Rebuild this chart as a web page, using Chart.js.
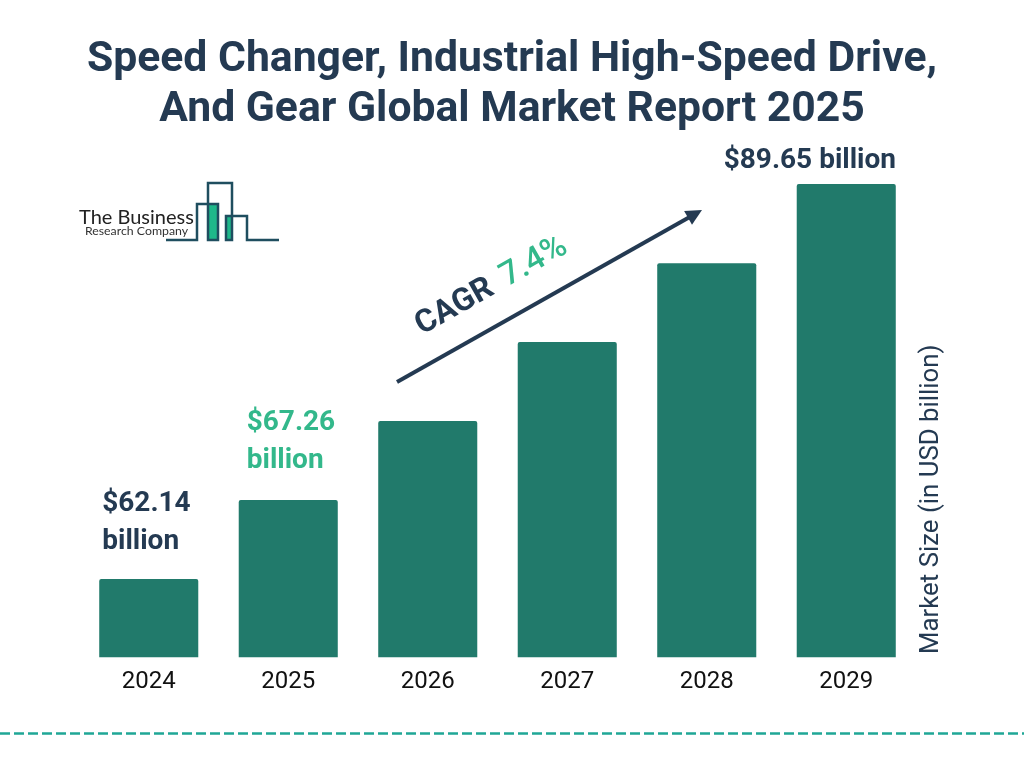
<!DOCTYPE html>
<html>
<head>
<meta charset="utf-8">
<title>Speed Changer Market</title>
<script src="https://cdn.jsdelivr.net/npm/chart.js@4"></script>
<style>
  body { margin: 0; background: #fff; }
  canvas { display: block; }
</style>
</head>
<body>
<canvas id="myChart" width="1024" height="768"></canvas>
<script>
const titleLines = ["Speed Changer, Industrial High-Speed Drive,", "And Gear Global Market Report 2025"];
const years = ["2024", "2025", "2026", "2027", "2028", "2029"];
// bar heights, the bars are evenly stepped so 2025 sits a bit above its label
const marketSize = [62.14, 67.64, 73.14, 78.64, 84.14, 89.65];
const barLabels = [["$62.14", "billion"], ["$67.26", "billion"], [], [], [], ["$89.65 billion"]];
const axisTitle = "Market Size (in USD billion)";
const cagrWord = "CAGR";
const cagrValue = "7.4%";
const logoLines = ["The Business", "Research Company"];

const navy = "#243a52";
const green = "#33b88b";
const barColor = "#217a6b";
const labelColors = [navy, green, navy, navy, navy, navy];
const labelShift = [3, 8, 0, 0, 0, -73];
const labelGap = [37, 39, 0, 0, 0, 23];

const barLabelPlugin = {
  id: "barLabels",
  afterDatasetsDraw(chart) {
    const ctx = chart.ctx;
    const bars = chart.getDatasetMeta(0).data;
    ctx.save();
    ctx.font = "700 28px Roboto";
    ctx.textAlign = "left";
    ctx.textBaseline = "middle";
    bars.forEach((bar, i) => {
      const lines = barLabels[i];
      ctx.fillStyle = labelColors[i];
      lines.forEach((line, n) => {
        const y = bar.y - labelGap[i] - (lines.length - 1 - n) * 38.5;
        ctx.fillText(line, bar.x - bar.width / 2 + labelShift[i], y);
      });
    });
    ctx.restore();
  }
};

const decorPlugin = {
  id: "decor",
  afterDraw(chart) {
    const ctx = chart.ctx;
    ctx.save();

    // dashed footer line
    ctx.strokeStyle = "#1fa796";
    ctx.lineWidth = 2.5;
    ctx.setLineDash([10, 4]);
    ctx.beginPath();
    ctx.moveTo(0, 733.5);
    ctx.lineTo(1024, 733.5);
    ctx.stroke();
    ctx.setLineDash([]);

    // growth arrow
    const x1 = 397, y1 = 382, x2 = 702, y2 = 210;
    const angle = Math.atan2(y2 - y1, x2 - x1);
    ctx.strokeStyle = navy;
    ctx.fillStyle = navy;
    ctx.lineWidth = 4;
    ctx.beginPath();
    ctx.moveTo(x1, y1);
    ctx.lineTo(x2 - 8 * Math.cos(angle), y2 - 8 * Math.sin(angle));
    ctx.stroke();
    ctx.save();
    ctx.translate(x2, y2);
    ctx.rotate(angle);
    ctx.beginPath();
    ctx.moveTo(0, 0);
    ctx.lineTo(-16, -8);
    ctx.lineTo(-16, 8);
    ctx.closePath();
    ctx.fill();
    ctx.restore();

    // CAGR text
    ctx.save();
    ctx.translate(422, 335);
    ctx.rotate(-29.5 * Math.PI / 180);
    ctx.textAlign = "left";
    ctx.textBaseline = "alphabetic";
    ctx.font = "700 32px Roboto";
    ctx.fillStyle = navy;
    ctx.fillText(cagrWord, 0, 0);
    ctx.font = "500 33px Roboto";
    ctx.fillStyle = green;
    ctx.fillText(cagrValue, 98, 0);
    ctx.restore();

    // axis title, reads bottom to top
    ctx.save();
    ctx.translate(932, 654);
    ctx.rotate(-Math.PI / 2);
    ctx.textAlign = "left";
    ctx.textBaseline = "middle";
    ctx.font = "25.8px Roboto";
    ctx.fillStyle = navy;
    ctx.fillText(axisTitle, 0, 0);
    ctx.restore();

    // logo
    ctx.fillStyle = "#1fb88a";
    ctx.fillRect(208, 204, 10, 36);
    ctx.fillRect(226, 216, 6, 24);
    ctx.strokeStyle = "#1f4e5f";
    ctx.lineWidth = 2.5;
    ctx.beginPath();
    ctx.moveTo(166, 240);
    ctx.lineTo(197, 240);
    ctx.lineTo(197, 204);
    ctx.lineTo(218, 204);
    ctx.lineTo(218, 240);
    ctx.lineTo(208, 240);
    ctx.lineTo(208, 183);
    ctx.lineTo(232, 183);
    ctx.lineTo(232, 240);
    ctx.lineTo(226, 240);
    ctx.lineTo(226, 216);
    ctx.lineTo(247, 216);
    ctx.lineTo(247, 240);
    ctx.lineTo(279, 240);
    ctx.stroke();
    ctx.textAlign = "left";
    ctx.textBaseline = "alphabetic";
    ctx.fillStyle = "#222";
    ctx.font = "20px Lato";
    ctx.fillText(logoLines[0], 79, 224);
    ctx.font = "12.3px Lato";
    ctx.fillStyle = "#333";
    ctx.fillText(logoLines[1], 85, 235);

    ctx.restore();
  }
};

const data = {
  labels: years,
  datasets: [{
    label: "Market size",
    data: marketSize,
    backgroundColor: barColor,
    borderRadius: 2,
    borderSkipped: "bottom",
    barPercentage: 0.71,
    categoryPercentage: 1
  }]
};

const config = {
  type: "bar",
  data,
  options: {
    responsive: false,
    animation: false,
    layout: { padding: { left: 79, right: 79, top: 35, bottom: 70 } },
    plugins: {
      legend: { display: false },
      tooltip: { enabled: false },
      title: {
        display: true,
        text: titleLines,
        color: navy,
        font: { family: "Roboto", size: 42.7, weight: "700", lineHeight: 1.171 },
        padding: { top: 0, bottom: 49 }
      }
    },
    scales: {
      x: {
        grid: { display: false },
        border: { display: false },
        ticks: {
          color: "#111",
          font: { family: "Roboto", size: 24 },
          padding: 2,
          maxRotation: 0
        }
      },
      y: {
        position: "right",
        min: 56.7,
        max: 89.65,
        grid: { display: false },
        border: { display: false },
        ticks: { display: false },
        // keeps room for the axis title so the main title stays centred on the page
        afterFit(scale) {
          scale.width = 29;
        }
      }
    }
  },
  plugins: [barLabelPlugin, decorPlugin]
};

const myChart = new Chart(document.getElementById("myChart"), config);
</script>
</body>
</html>
